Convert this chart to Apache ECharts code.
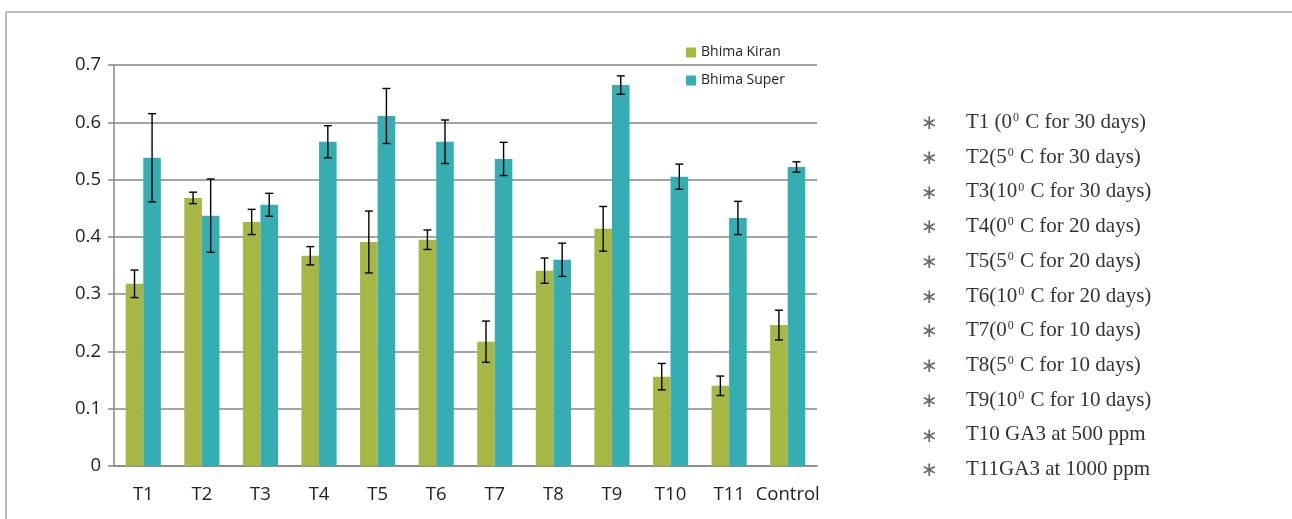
<!DOCTYPE html>
<html>
<head>
<meta charset="utf-8">
<script src="https://cdn.jsdelivr.net/npm/echarts@6/dist/echarts.min.js"></script>
<style>
  html, body { margin: 0; padding: 0; background: #ffffff; }
  #chart { width: 1292px; height: 519px; }
</style>
</head>
<body>
<div id="chart"></div>
<script>
// Treatments on the category axis
const categories = ['T1', 'T2', 'T3', 'T4', 'T5', 'T6', 'T7', 'T8', 'T9', 'T10', 'T11', 'Control'];

// Bhima Kiran means and standard errors
const kiranMean = [0.318, 0.468, 0.426, 0.367, 0.391, 0.395, 0.217, 0.341, 0.414, 0.156, 0.140, 0.246];
const kiranErr  = [0.024, 0.010, 0.022, 0.016, 0.054, 0.017, 0.036, 0.022, 0.039, 0.023, 0.017, 0.026];

// Bhima Super means and standard errors
const superMean = [0.538, 0.437, 0.456, 0.566, 0.611, 0.566, 0.536, 0.360, 0.665, 0.505, 0.433, 0.522];
const superErr  = [0.077, 0.064, 0.020, 0.028, 0.048, 0.038, 0.029, 0.029, 0.016, 0.022, 0.029, 0.009];

// Y axis ticks
const yMin = 0, yMax = 0.7, yStep = 0.1;

// Treatment key shown beside the plot ({s|0} is a raised degree zero)
const keyLines = [
  'T1 (0{s|0} C for 30 days)',
  'T2(5{s|0} C for 30 days)',
  'T3(10{s|0} C for 30 days)',
  'T4(0{s|0} C for 20 days)',
  'T5(5{s|0} C for 20 days)',
  'T6(10{s|0} C for 20 days)',
  'T7(0{s|0} C for 10 days)',
  'T8(5{s|0} C for 10 days)',
  'T9(10{s|0} C for 10 days)',
  'T10 GA3 at 500 ppm',
  'T11GA3 at 1000 ppm'
];

const seriesNames = ['Bhima Kiran', 'Bhima Super'];
const colors = ['#A8B744', '#34AEB2'];

const BAR_FRACTION = 0.3; // each bar takes 30% of a category band

function errorData(mean, err) {
  return mean.map((m, i) => [i, m - err[i], m + err[i]]);
}

// Draws one whisker (vertical line + caps) shifted to the centre of its bar
function errorRenderer(side) {
  return function (params, api) {
    const idx = api.value(0);
    const lo = api.coord([idx, api.value(1)]);
    const hi = api.coord([idx, api.value(2)]);
    const band = api.size([1, 0])[0];
    const x = lo[0] + side * band * BAR_FRACTION / 2;
    const cap = 4;
    const style = { stroke: '#000000', lineWidth: 1.4 };
    return {
      type: 'group',
      children: [
        { type: 'line', shape: { x1: x, y1: hi[1], x2: x, y2: lo[1] }, style },
        { type: 'line', shape: { x1: x - cap, y1: hi[1], x2: x + cap, y2: hi[1] }, style },
        { type: 'line', shape: { x1: x - cap, y1: lo[1], x2: x + cap, y2: lo[1] }, style }
      ]
    };
  };
}

const keyGraphics = [];
keyLines.forEach((txt, i) => {
  const cy = 125 + i * 34.7;
  keyGraphics.push({
    type: 'text', left: 921, top: cy - 11,
    style: { text: '\u2217', font: '20px "DejaVu Sans"', fill: '#666666' }
  });
  keyGraphics.push({
    type: 'text', left: 966, top: cy - 13,
    style: {
      text: txt,
      fontFamily: '"Liberation Serif", serif',
      fontSize: 21,
      fill: '#333333',
      rich: {
        s: { fontSize: 12, fontFamily: '"Liberation Serif", serif', fill: '#333333', verticalAlign: 'top', lineHeight: 12, padding: [0, 1, 11, 1] }
      }
    }
  });
});

const chart = echarts.init(document.getElementById('chart'), null, { renderer: 'canvas' });

chart.setOption({
  animation: false,
  backgroundColor: '#ffffff',
  textStyle: { fontFamily: '"Open Sans", sans-serif' },
  grid: { left: 114, right: 475, top: 65, bottom: 53, containLabel: false },
  legend: {
    data: seriesNames,
    orient: 'vertical',
    left: 681,
    top: 40.5,
    itemWidth: 10,
    itemHeight: 10,
    itemGap: 14,
    icon: 'rect',
    textStyle: { fontSize: 14, color: '#222222', fontFamily: '"Open Sans", sans-serif' }
  },
  xAxis: {
    type: 'category',
    data: categories,
    axisLine: { show: true, lineStyle: { color: '#868686', width: 1.5 } },
    axisTick: { show: false },
    axisLabel: { interval: 0, color: '#222222', fontSize: 18.5, margin: 19, fontFamily: '"Open Sans", sans-serif' }
  },
  yAxis: {
    type: 'value',
    min: yMin,
    max: yMax,
    interval: yStep,
    axisLine: { show: true, lineStyle: { color: '#868686', width: 1.5 } },
    axisTick: { show: true, length: 6, lineStyle: { color: '#868686', width: 1.5 } },
    splitLine: { show: true, lineStyle: { color: '#868686', width: 1.5 } },
    axisLabel: {
      color: '#222222', fontSize: 18.5, margin: 13, fontFamily: '"Open Sans", sans-serif',
      formatter: v => (Math.round(v * 10) / 10).toString()
    }
  },
  series: [
    {
      name: seriesNames[0], type: 'bar', data: kiranMean,
      itemStyle: { color: colors[0] },
      barGap: '0%', barCategoryGap: '40%'
    },
    {
      name: seriesNames[1], type: 'bar', data: superMean,
      itemStyle: { color: colors[1] },
      barGap: '0%', barCategoryGap: '40%'
    },
    {
      name: 'kiranErr', type: 'custom', renderItem: errorRenderer(-1),
      data: errorData(kiranMean, kiranErr), z: 5, silent: true
    },
    {
      name: 'superErr', type: 'custom', renderItem: errorRenderer(1),
      data: errorData(superMean, superErr), z: 5, silent: true
    }
  ],
  graphic: [
    { type: 'line', shape: { x1: 6, y1: 12, x2: 1292, y2: 12 }, style: { stroke: '#a6a6a6', lineWidth: 1.5 } },
    { type: 'line', shape: { x1: 6, y1: 12, x2: 6, y2: 519 }, style: { stroke: '#a6a6a6', lineWidth: 1.5 } }
  ].concat(keyGraphics)
});
</script>
</body>
</html>
